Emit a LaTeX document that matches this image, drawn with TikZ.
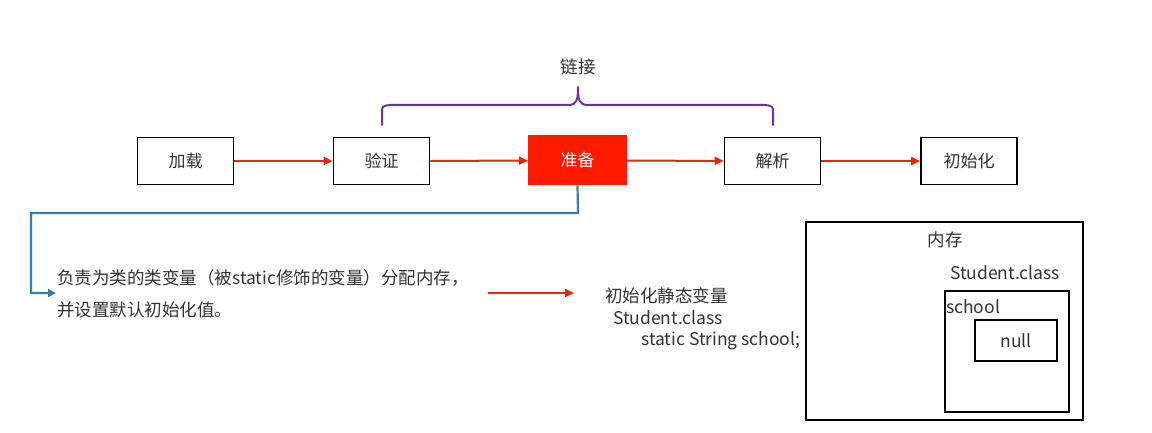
\documentclass[tikz,border=0pt]{standalone}
\usepackage{fontspec}
\setmainfont{Noto Sans CJK SC}
\usetikzlibrary{arrows.meta,calc}
\definecolor{stepred}{HTML}{FF1A00}
\definecolor{arrowred}{HTML}{F0220E}
\definecolor{bracepurple}{HTML}{7030A0}
\definecolor{linkblue}{HTML}{3A809C}
\definecolor{textgray}{HTML}{333333}
\begin{document}
\begin{tikzpicture}[x=1pt,y=-1pt,
  stepbox/.style={draw=black,line width=1.6pt,minimum width=96pt,minimum height=47pt,inner sep=0pt,font=\fontsize{17}{20}\selectfont,text=textgray},
  hotbox/.style={fill=stepred,draw=stepred,line width=1pt,minimum width=98pt,minimum height=49pt,inner sep=0pt,font=\fontsize{17}{20}\selectfont,text=white},
  flow/.style={draw=arrowred,line width=2pt,-{Triangle[length=9pt,width=8pt]}},
  memframe/.style={draw=black,line width=1.6pt},
  label/.style={font=\fontsize{17.5}{20}\selectfont,text=textgray,inner sep=0pt}]
\useasboundingbox (0,0) rectangle (1152,433);
\fill[white] (0,0) rectangle (1152,433);

% the five phases
\node[stepbox] (load) at (185.5,161) {加载};
\node[stepbox] (verify) at (381.5,161) {验证};
\node[hotbox] (prepare) at (577.5,160.5) {准备};
\node[stepbox] (resolve) at (772.5,161) {解析};
\node[stepbox] (init) at (969,161) {初始化};

\draw[flow] (load) -- (verify);
\draw[flow] (verify) -- (prepare);
\draw[flow] (prepare) -- (resolve);
\draw[flow] (resolve) -- (init);

% brace over the linking phases
\draw[bracepurple,line width=2pt,line cap=round,line join=round]
  (382,125) -- (382,114) .. controls (382,106) .. (390,105) -- (568,105)
  .. controls (577,105) and (578,100) .. (578,87)
  .. controls (578,100) and (579,105) .. (588,105) -- (765,105)
  .. controls (773,106) .. (773,114) -- (773,125);
\node[label] (link) at (578,67) {链接};

% detail of the preparation phase
\node[label,anchor=west,align=left] (desc) at (57,294)
  {负责为类的类变量（被static修饰的变量）分配内存，\\[12pt]并设置默认初始化值。};
\coordinate (descin) at (56,293);
\draw[linkblue,line width=2.2pt,-{Triangle[length=8pt,width=8pt]}]
  (prepare.south) -- (578,213) -- (31,213) -- (31,293) -- (descin);

\coordinate (mid1) at (488,293);
\coordinate (mid2) at (574,293);
\draw[flow] (mid1) -- (mid2);

\node[label,anchor=west] (initstatic) at (605,296) {初始化静态变量};
\node[label,anchor=west] (cls) at (613,318) {Student.class};
\node[label,anchor=west] (field) at (641,341) {static String school;};

% memory layout
\node[memframe,minimum width=277pt,minimum height=198pt,inner sep=0pt] (mem) at (944.5,321) {};
\node[label] (memlabel) at (945,240) {内存};
\node[label] (clslabel) at (1005,273) {Student.class};
\node[memframe,minimum width=124pt,minimum height=121pt,inner sep=0pt] (clsbox) at (1007,351.5) {};
\node[label,anchor=west] (schoollabel) at (946,307) {school};
\node[memframe,minimum width=82pt,minimum height=41pt,inner sep=0pt] (nullbox) at (1016,340.5) {};
\node[label] (nullval) at (1016,341) {null};
\end{tikzpicture}
\end{document}
